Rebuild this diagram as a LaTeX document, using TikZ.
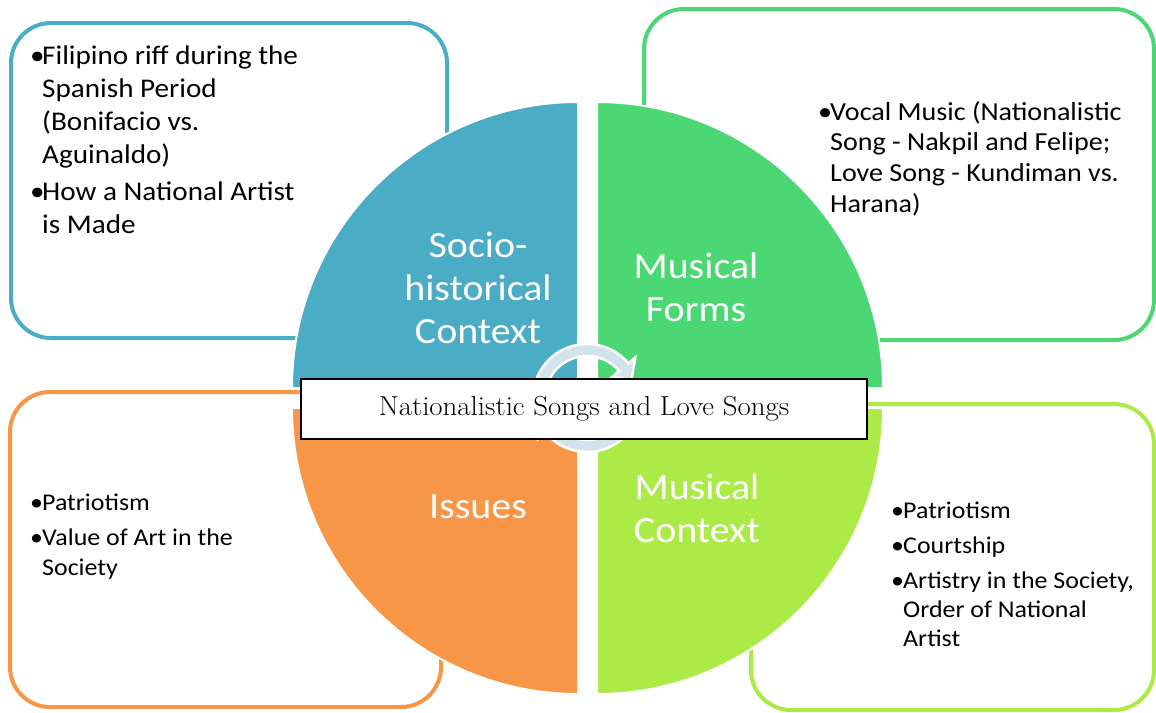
\documentclass[tikz,border=0pt]{standalone}
\usepackage{fontspec}
\newfontfamily\calib[FakeStretch=1.08]{Carlito}
\newfontfamily\bannerfont[FakeStretch=1.05]{Latin Modern Roman}
\usetikzlibrary{calc}
\definecolor{cblue}{RGB}{75,172,198}
\definecolor{cgreen}{RGB}{76,215,117}
\definecolor{clime}{RGB}{172,234,72}
\definecolor{corange}{RGB}{247,150,70}
\definecolor{cring}{RGB}{210,227,236}
\newcommand{\bul}{\makebox[12pt][l]{\textbullet}}
\begin{document}
\begin{tikzpicture}[x=1pt,y=-1pt,
  framebox/.style={line width=4pt, rounded corners=40pt, fill=white},
  wedge/.style={draw=white, line width=2pt},
  lbl/.style={text=white, inner sep=0pt, anchor=base, font=\calib\fontsize{37}{43}\selectfont},
  itemlist/.style={text=black, inner sep=0pt, anchor=base west},
  ringpart/.style={fill=cring, draw=white, line width=2.5pt}]
\useasboundingbox (0,0) rectangle (1156,712);

% outer rounded boxes
\draw[framebox, draw=cblue]   (11,23)   rectangle (447,338);
\draw[framebox, draw=cgreen]  (644,9)   rectangle (1154,340);
\draw[framebox, draw=corange] (10,392)  rectangle (441,707);
\draw[framebox, draw=clime]   (751,404) rectangle (1154,710);

% four exploded quadrants of the circle
\fill[wedge, fill=cblue]   (578,388) -- ++(180:286) arc[start angle=180, end angle=270, radius=286] -- cycle;
\fill[wedge, fill=cgreen]  (597,388) -- ++(270:286) arc[start angle=270, end angle=360, radius=286] -- cycle;
\fill[wedge, fill=clime]   (597,408) -- ++(0:286)   arc[start angle=0,   end angle=90,  radius=286] -- cycle;
\fill[wedge, fill=corange] (578,408) -- ++(90:286)  arc[start angle=90,  end angle=180, radius=286] -- cycle;

% circular arrows in the middle
\begin{scope}[shift={(587,398)}]
  \filldraw[ringpart] (175:54) arc[start angle=175, end angle=320, radius=54]
    -- (320:63) -- (338:48) -- (320:33) -- (320:42)
    arc[start angle=320, end angle=175, radius=42] -- cycle;
  \filldraw[ringpart] (5:54) arc[start angle=5, end angle=140, radius=54]
    -- (140:63) -- (158:48) -- (140:33) -- (140:42)
    arc[start angle=140, end angle=5, radius=42] -- cycle;
\end{scope}

% central banner
\node[draw=black, line width=2pt, fill=white, minimum width=566pt, minimum height=60pt,
      inner sep=0pt, font=\bannerfont\fontsize{27.5}{30}\selectfont] (banner) at (584,409)
      {Nationalistic Songs and Love Songs};

% quadrant labels
\node[lbl] (socio) at (478,257) {\begin{tabular}[t]{@{}c@{}}Socio-\\historical\\Context\end{tabular}};
\node[lbl] (forms) at (696,278) {\begin{tabular}[t]{@{}c@{}}Musical\\Forms\end{tabular}};
\node[lbl] (issues) at (478,518) {Issues};
\node[lbl] (mctx) at (697,499) {\begin{tabular}[t]{@{}c@{}}Musical\\Context\end{tabular}};

% bullet lists in the boxes
\node[itemlist, font=\calib\fontsize{27}{33}\selectfont] (list1) at (30,64)
  {\begin{tabular}[t]{@{}l@{}l@{}}
  \bul & Filipino riff during the\\
       & Spanish Period\\
       & (Bonifacio vs.\\
       & Aguinaldo)\\[4pt]
  \bul & How a National Artist\\
       & is Made
  \end{tabular}};
\node[itemlist, font=\calib\fontsize{26}{30.7}\selectfont] (list2) at (818,120)
  {\begin{tabular}[t]{@{}l@{}l@{}}
  \bul & Vocal Music (Nationalistic\\
       & Song - Nakpil and Felipe;\\
       & Love Song - Kundiman vs.\\
       & Harana)
  \end{tabular}};
\node[itemlist, font=\calib\fontsize{24}{30}\selectfont] (list3) at (30,510)
  {\begin{tabular}[t]{@{}l@{}l@{}}
  \bul & Patriotism\\[5pt]
  \bul & Value of Art in the\\
       & Society
  \end{tabular}};
\node[itemlist, font=\calib\fontsize{24}{29}\selectfont] (list4) at (891,518)
  {\begin{tabular}[t]{@{}l@{}l@{}}
  \bul & Patriotism\\[6pt]
  \bul & Courtship\\[6pt]
  \bul & Artistry in the Society,\\
       & Order of National\\
       & Artist
  \end{tabular}};
\end{tikzpicture}
\end{document}
